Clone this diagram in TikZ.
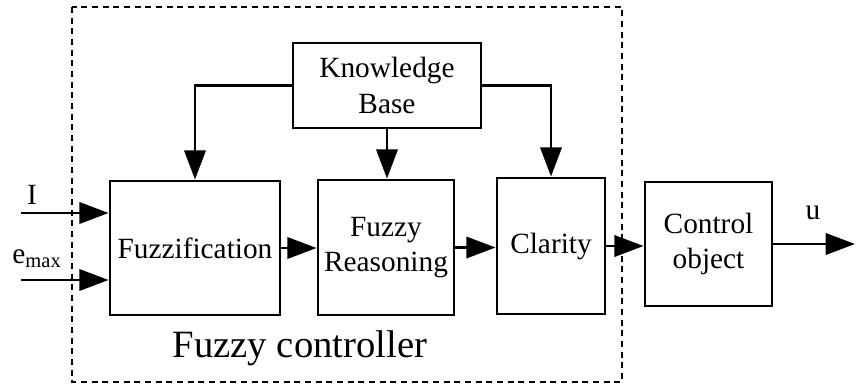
\documentclass[tikz,border=0pt]{standalone}
\usepackage{fontspec}
\setmainfont{Liberation Serif}
\usetikzlibrary{arrows.meta}

\tikzset{every picture/.style={line width=2.1pt}}
\tikzset{
	blk/.style={draw, inner sep=0pt, align=center, font=\fontsize{22}{26.5}\selectfont},
	flow/.style={-{Triangle[length=22pt,width=16pt]}},
	frame/.style={line width=1.8pt, dash pattern={on 4.5pt off 3.5pt}},
	lbl/.style={inner sep=0pt, font=\fontsize{22}{26}\selectfont}
}

\begin{document}
\begin{tikzpicture}[x=0.75pt,y=0.75pt,yscale=-1,xscale=1]
		\useasboundingbox (0,0) rectangle (856,385);

		%Shape: Dashed Rectangle [fuzzy controller frame]
		\draw [frame] (72,7) rectangle (622,382) ;

		%Shape: Rectangle [knowledge base]
		\node [blk, minimum width=141pt, minimum height=63.75pt] (kb) at (387,85.5) {Knowledge\\Base};
		%Shape: Rectangle [fuzzification]
		\node [blk, minimum width=127.5pt, minimum height=100.5pt] (fuzz) at (195,248) {Fuzzification};
		%Shape: Rectangle [reasoning]
		\node [blk, minimum width=102pt, minimum height=101.25pt] (reas) at (386,247.5) {Fuzzy\\Reasoning};
		%Shape: Rectangle [clarity]
		\node [blk, minimum width=81pt, minimum height=102pt] (clar) at (551,246) {Clarity};
		%Shape: Rectangle [control object]
		\node [blk, minimum width=95.25pt, minimum height=93pt] (ctrl) at (708.5,244) {Control\\object};

		%Free ends of the signal lines
		\coordinate (inI) at (21,213) ;
		\coordinate (inE) at (21,280) ;
		\coordinate (out) at (855,244) ;

		%Straight Lines [knowledge base to the blocks]
		\draw [flow] (kb.west) -| (fuzz.north) ;
		\draw [flow] (kb.south) -- (kb.south |- reas.north) ;
		\draw [flow] (kb.east) -| (clar.north) ;

		%Straight Lines [signal chain]
		\draw [flow] (inI) -- (inI -| fuzz.west) ;
		\draw [flow] (inE) -- (inE -| fuzz.west) ;
		\draw [flow] (fuzz.east) -- (fuzz.east -| reas.west) ;
		\draw [flow] (reas.east) -- (reas.east -| clar.west) ;
		\draw [flow] (clar.east) -- (clar.east -| ctrl.west) ;
		\draw [flow] (ctrl.east) -- (out) ;

		% Text Node
		\node [lbl] (lblI) at (32,195) {I};
		% Text Node
		\node [lbl, anchor=base west] (lblE) at (11,263) {e\textsubscript{max}};
		% Text Node
		\node [lbl] (lblU) at (813,213) {u};
		% Text Node
		\node [inner sep=0pt, anchor=base, font=\fontsize{29}{34}\selectfont] (title) at (300,357) {Fuzzy controller};

	\end{tikzpicture}
\end{document}
